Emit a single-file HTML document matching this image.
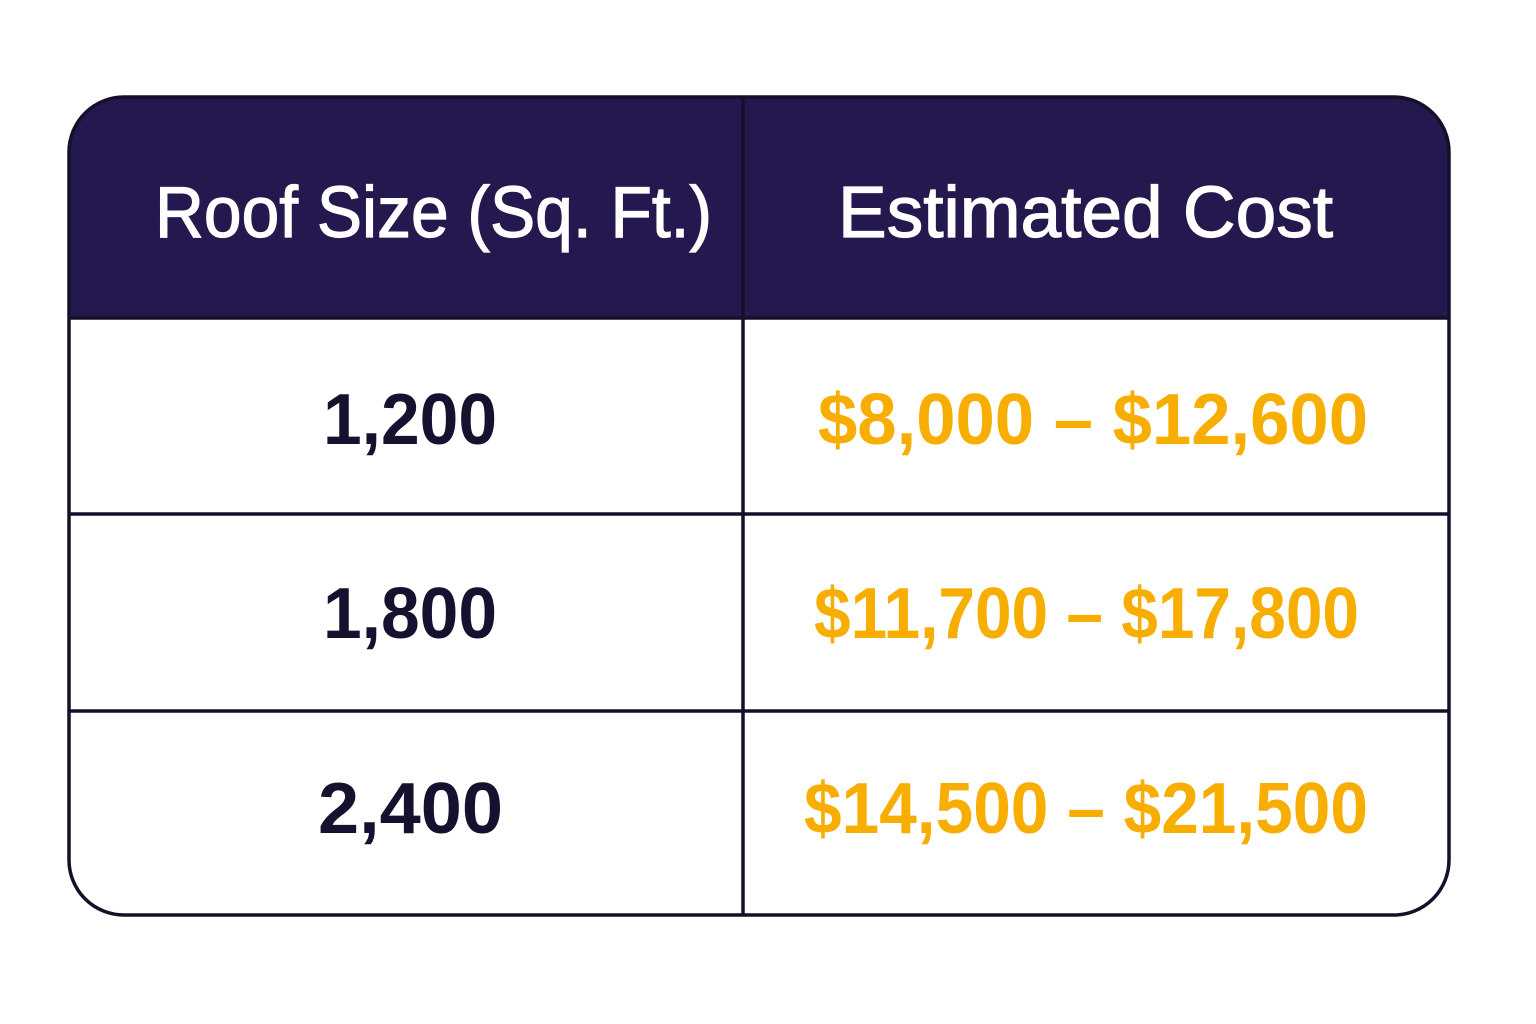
<!DOCTYPE html>
<html><head><meta charset="utf-8"><style>html,body{margin:0;padding:0;background:#fff;width:1536px;height:1024px;overflow:hidden}</style></head>
<body>
<svg width="1536" height="1024" viewBox="0 0 1536 1024" xmlns="http://www.w3.org/2000/svg" font-family="Liberation Sans, sans-serif">
<defs><clipPath id="c"><rect x="69" y="97" width="1380" height="818" rx="55"/></clipPath></defs>
<rect x="69" y="97" width="1380" height="818" rx="55" fill="#fff"/>
<rect x="69" y="97" width="1380" height="221" fill="#24184f" clip-path="url(#c)"/>
<g stroke="#14102a" stroke-width="3.5">
<line x1="69" y1="318" x2="1449" y2="318"/>
<line x1="69" y1="514" x2="1449" y2="514"/>
<line x1="69" y1="711" x2="1449" y2="711"/>
<line x1="743" y1="97" x2="743" y2="915"/>
</g>
<rect x="69" y="97" width="1380" height="818" rx="55" fill="none" stroke="#14102a" stroke-width="3.5"/>
<g fill="#fff" stroke="#fff" stroke-width="1.2" font-size="72">
<text x="155" y="237" textLength="557" lengthAdjust="spacingAndGlyphs">Roof Size (Sq. Ft.)</text>
<text x="838" y="237" textLength="495" lengthAdjust="spacingAndGlyphs">Estimated Cost</text>
</g>
<g fill="#16112e" font-size="72" font-weight="bold">
<text x="323" y="444" textLength="174" lengthAdjust="spacingAndGlyphs">1,200</text>
<text x="323" y="638" textLength="174" lengthAdjust="spacingAndGlyphs">1,800</text>
<text x="318" y="833" textLength="185" lengthAdjust="spacingAndGlyphs">2,400</text>
</g>
<g fill="#f7ae00" font-size="72" font-weight="bold">
<text x="818" y="444" textLength="550" lengthAdjust="spacingAndGlyphs">$8,000 – $12,600</text>
<text x="814" y="638" textLength="545" lengthAdjust="spacingAndGlyphs">$11,700 – $17,800</text>
<text x="804" y="833" textLength="564" lengthAdjust="spacingAndGlyphs">$14,500 – $21,500</text>
</g>
</svg>
</body></html>
